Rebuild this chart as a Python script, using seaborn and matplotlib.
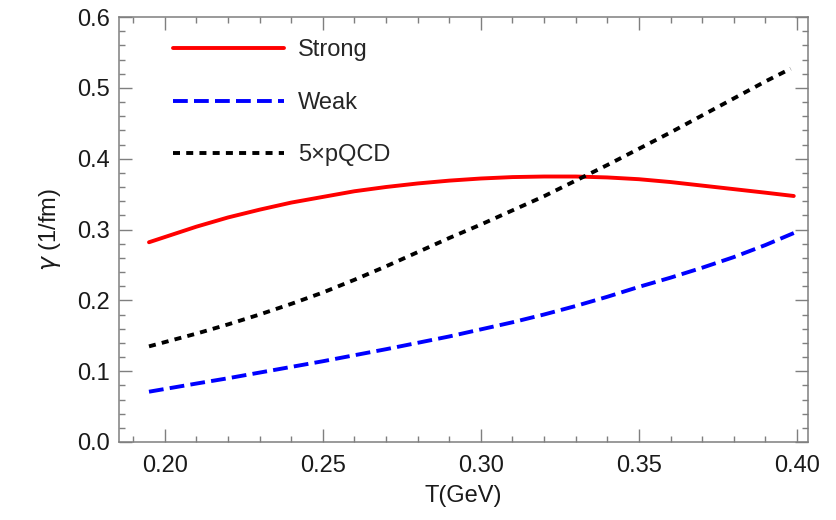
import numpy as np
import pandas as pd
import matplotlib
matplotlib.use("Agg")
import matplotlib.pyplot as plt
import seaborn as sns
from matplotlib.ticker import MultipleLocator, FormatStrFormatter

# --- values ---
T_strong = [0.195, 0.21, 0.22, 0.23, 0.24, 0.25, 0.26, 0.27, 0.28, 0.29, 0.30,
            0.31, 0.32, 0.33, 0.34, 0.35, 0.36, 0.37, 0.38, 0.39, 0.399]
g_strong = [0.282, 0.304, 0.317, 0.328, 0.338, 0.346, 0.354, 0.360, 0.365, 0.369, 0.372,
            0.374, 0.3748, 0.3748, 0.3735, 0.371, 0.367, 0.362, 0.357, 0.352, 0.3473]

T_weak = [0.195, 0.21, 0.22, 0.23, 0.24, 0.25, 0.26, 0.27, 0.28, 0.29, 0.30,
          0.31, 0.32, 0.33, 0.34, 0.35, 0.36, 0.37, 0.38, 0.39, 0.399]
g_weak = [0.071, 0.0825, 0.090, 0.098, 0.106, 0.114, 0.1225, 0.131, 0.140, 0.149, 0.159,
          0.169, 0.180, 0.192, 0.205, 0.219, 0.232, 0.246, 0.261, 0.278, 0.295]

T_pqcd = [0.195, 0.21, 0.22, 0.23, 0.24, 0.25, 0.26, 0.27, 0.28, 0.29, 0.30,
          0.31, 0.32, 0.33, 0.34, 0.35, 0.36, 0.37, 0.38, 0.39, 0.398]
g_pqcd = [0.135, 0.153, 0.166, 0.180, 0.195, 0.211, 0.229, 0.248, 0.268, 0.288, 0.307,
          0.327, 0.347, 0.369, 0.391, 0.414, 0.437, 0.461, 0.485, 0.509, 0.527]

labels = ["Strong", "Weak", "5\u00d7pQCD"]

sns.set_theme(style="ticks")
plt.rcParams['font.family'] = ['Liberation Sans', 'DejaVu Sans']
plt.rcParams['mathtext.fontset'] = 'dejavusans'

fig = plt.figure(figsize=(8.36, 5.2), dpi=100)
ax = fig.add_axes([0.1423, 0.15, 0.8242, 0.8173])

lw = 2.8
sns.lineplot(x=T_strong, y=g_strong, ax=ax, color="#ff0000", lw=lw, label=labels[0],
             linestyle="-")
sns.lineplot(x=T_weak, y=g_weak, ax=ax, color="#0000ff", lw=lw, label=labels[1],
             linestyle=(0, (3.8, 1.6)))
sns.lineplot(x=T_pqcd, y=g_pqcd, ax=ax, color="black", lw=lw, label=labels[2],
             linestyle=(0, (1.8, 1.6)))

ax.set_xlim(0.1855, 0.4035)
ax.set_ylim(0.0, 0.6)
ax.xaxis.set_major_locator(MultipleLocator(0.05))
ax.xaxis.set_minor_locator(MultipleLocator(0.01))
ax.yaxis.set_major_locator(MultipleLocator(0.1))
ax.yaxis.set_minor_locator(MultipleLocator(0.02))
ax.xaxis.set_major_formatter(FormatStrFormatter("%.2f"))
ax.yaxis.set_major_formatter(FormatStrFormatter("%.1f"))

spine_col = "#7f7f7f"
for s in ax.spines.values():
    s.set_visible(True)
    s.set_color(spine_col)
    s.set_linewidth(1.1)
ax.tick_params(which="both", direction="in", top=True, right=True, color=spine_col,
               width=1.0, labelsize=17, labelcolor="#1a1a1a")
ax.tick_params(axis="x", pad=9)
ax.tick_params(axis="y", pad=6.5)
ax.tick_params(which="major", length=9.4)
ax.tick_params(which="minor", length=4.3)

ax.set_xlabel("T(GeV)", fontsize=17, color="#1a1a1a", labelpad=6)
ax.set_ylabel(r"$\gamma$ (1/fm)", fontsize=17, color="#1a1a1a", labelpad=10)

ax.legend(loc="upper left", bbox_to_anchor=(0.047, 0.998), frameon=False, fontsize=17,
          handlelength=4.7, handletextpad=0.6, labelspacing=1.3)

fig.savefig("out.png", dpi=100)
